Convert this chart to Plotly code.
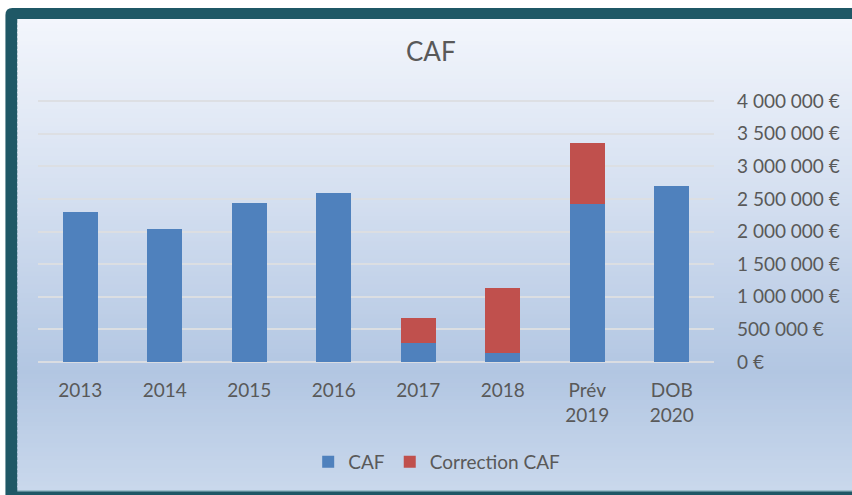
import plotly.graph_objects as go

# ---- data ----
categories = ["2013", "2014", "2015", "2016", "2017", "2018", "Prév<br>2019", "DOB<br>2020"]
caf_values = [2300000, 2040000, 2440000, 2590000, 290000, 140000, 2420000, 2690000]
correction_values = [None, None, None, None, 380000, 1000000, 940000, None]
tick_values = [0, 500000, 1000000, 1500000, 2000000, 2500000, 3000000, 3500000, 4000000]
tick_labels = ["0 €", "500 000 €", "1 000 000 €", "1 500 000 €", "2 000 000 €",
               "2 500 000 €", "3 000 000 €", "3 500 000 €", "4 000 000 €"]

# ---- layout geometry (pixels) ----
W, H = 852, 495
PL, PR, PT, PB = 38, 723, 99, 364   # plot area
Y0_PX, YTOP_PX = 362, 101           # pixel rows of 0 and of the top tick
TOP_TICK = tick_values[-1]
unit = TOP_TICK / (Y0_PX - YTOP_PX)
y_min = -(PB - Y0_PX) * unit
y_max = (Y0_PX - PT) * unit


def px(x):
    return (x - PL) / (PR - PL)


def py(y):
    return (PB - y) / (PB - PT)


FONT = "Lato"
GREY = "#595959"

fig = go.Figure()
fig.add_trace(go.Bar(x=categories, y=caf_values, name="CAF",
                     marker=dict(color="#4F81BD", line=dict(width=0))))
fig.add_trace(go.Bar(x=categories, y=correction_values, name="Correction CAF",
                     marker=dict(color="#C0504D", line=dict(width=0))))

shapes = []
# outer dark frame with rounded top-left corner
r = 7
x0, y0, x1, y1 = 5, 8, 920, 540
path = (f"M {px(x0)},{py(y0 + r)} Q {px(x0)},{py(y0)} {px(x0 + r)},{py(y0)} "
        f"L {px(x1)},{py(y0)} L {px(x1)},{py(y1)} L {px(x0)},{py(y1)} Z")
shapes.append(dict(type="path", xref="paper", yref="paper", path=path,
                   fillcolor="#1F5866", line=dict(width=0), layer="below"))


def lerp(c1, c2, t):
    return tuple(round(a + (b - a) * t) for a, b in zip(c1, c2))


# vertical gradient made of overlapping bands (no gaps between them)
stops = [(19, (243, 246, 252)), (198, (212, 223, 240)), (372, (178, 198, 226)), (490, (201, 216, 236))]
ix0, ix1 = 17, 920
top, bot = 19, 490
n = 110
for i in range(n):
    ya = top + (bot - top) * i / n
    yb = top + (bot - top) * (i + 1) / n
    ym = (ya + yb) / 2
    c = stops[-1][1]
    for (sa, ca), (sb, cb) in zip(stops[:-1], stops[1:]):
        if sa <= ym <= sb:
            c = lerp(ca, cb, (ym - sa) / (sb - sa))
            break
    yb_draw = min(yb + 1.5, bot)
    shapes.append(dict(type="rect", xref="paper", yref="paper",
                       x0=px(ix0), x1=px(ix1), y0=py(yb_draw), y1=py(ya),
                       fillcolor=f"rgb{c}", line=dict(width=0), layer="below"))
shapes.append(dict(type="rect", xref="paper", yref="paper",
                   x0=px(ix0), x1=px(ix1), y0=py(491.5), y1=py(490),
                   fillcolor="#9DBFCC", line=dict(width=0), layer="below"))

fig.update_layout(
    width=W, height=H,
    margin=dict(l=PL, r=W - PR, t=PT, b=H - PB, pad=0),
    paper_bgcolor="white",
    plot_bgcolor="rgba(0,0,0,0)",
    barmode="stack",
    bargap=0.59,
    shapes=shapes,
    font=dict(family=FONT, color=GREY, size=18),
    title=dict(text="CAF", x=px(436), xref="paper", xanchor="center",
               y=1 - 52 / H, yanchor="middle", yref="container",
               font=dict(family=FONT, size=26, color=GREY)),
    legend=dict(orientation="h", traceorder="normal", x=px(442), xanchor="center",
                y=py(462), yanchor="middle",
                font=dict(family=FONT, size=19, color=GREY), itemwidth=30,
                bgcolor="rgba(0,0,0,0)"),
    xaxis=dict(showgrid=False, showline=False, ticks="", zeroline=False,
               tickfont=dict(family=FONT, size=19, color=GREY), ticklabelstandoff=13),
    yaxis=dict(side="right", range=[y_min, y_max], tickvals=tick_values, ticktext=tick_labels,
               showgrid=True, gridcolor="rgba(220,222,226,0.95)", gridwidth=1.6,
               zeroline=False, showline=False, ticks="",
               tickfont=dict(family=FONT, size=19, color=GREY), ticklabelstandoff=22),
)

fig.write_html("out.html", config={"displayModeBar": False},
               post_script="document.body.style.margin='0';document.body.style.overflow='hidden';")
